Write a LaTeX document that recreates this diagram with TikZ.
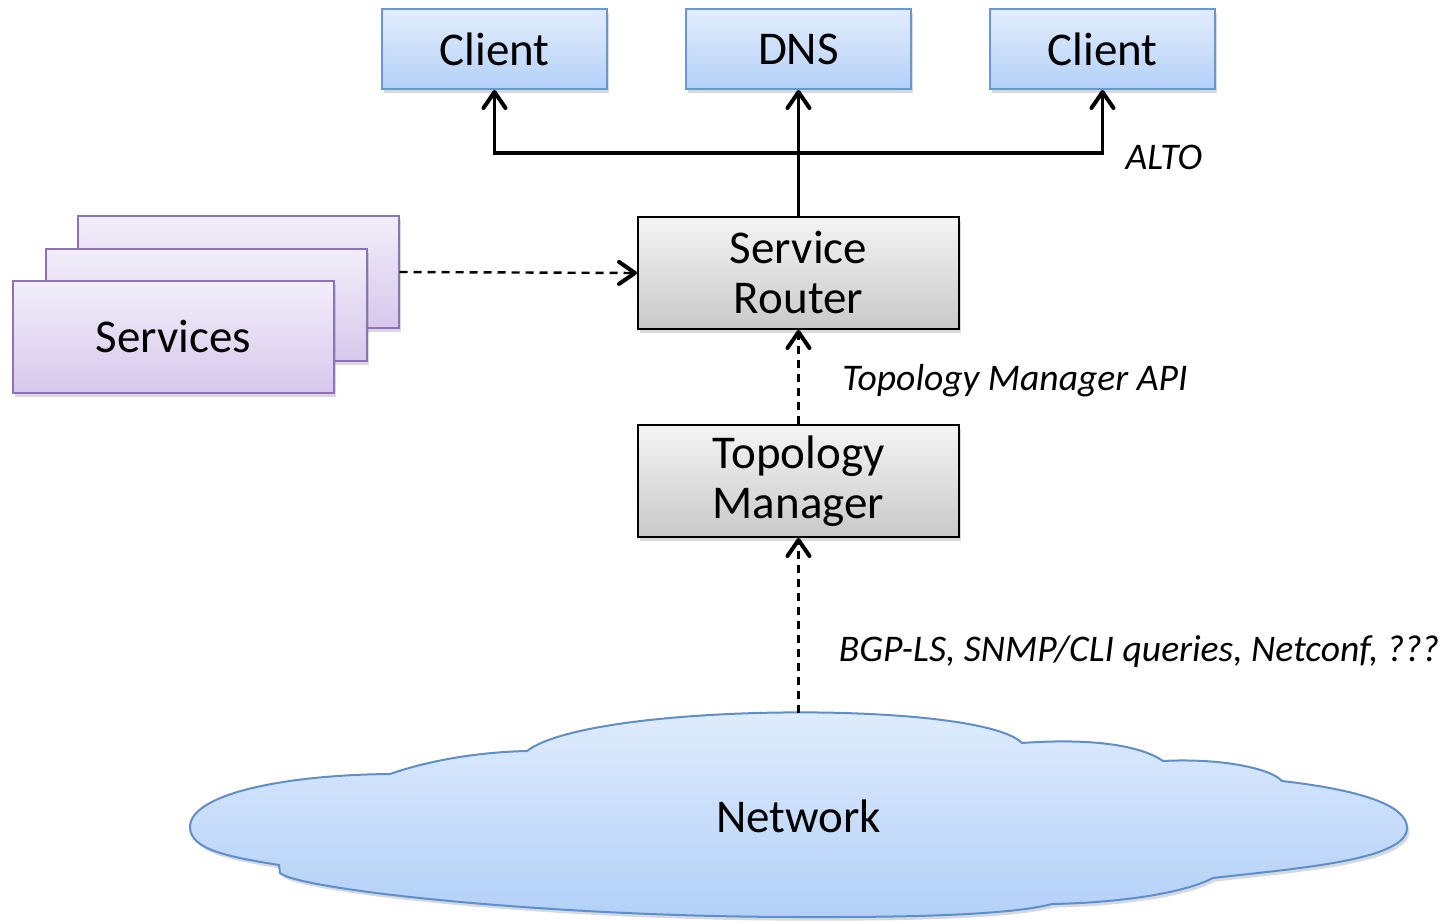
\documentclass[tikz,border=0pt]{standalone}
\usepackage{fontspec}
\setmainfont{Carlito}
\usetikzlibrary{arrows.meta,shadows,shadings}
\definecolor{bordblue}{HTML}{6A97CF}
\definecolor{blueTop}{HTML}{E3EEFD}
\definecolor{blueBot}{HTML}{B3D0F7}
\definecolor{grayTop}{HTML}{F4F4F4}
\definecolor{grayBot}{HTML}{C9C9C9}
\definecolor{bordpurple}{HTML}{8E72B4}
\definecolor{purTop}{HTML}{F2EEF9}
\definecolor{purBot}{HTML}{D6C8EC}
\definecolor{cloudBord}{HTML}{5F8FC8}
\definecolor{cloudTop}{HTML}{E2EDFD}
\definecolor{cloudBot}{HTML}{B2D0F8}
\tikzset{
  shadowed/.style={drop shadow={opacity=0.3, shadow xshift=1.2pt, shadow yshift=-1.8pt}},
  base/.style={draw, line width=1pt, inner sep=0pt, align=center,
    font=\fontsize{23.5}{25}\selectfont, shadowed},
  bluebox/.style={base, draw=bordblue, top color=blueTop, bottom color=blueBot,
    minimum width=112.5pt, minimum height=40pt},
  graybox/.style={base, draw=black, top color=grayTop, bottom color=grayBot,
    minimum width=160.5pt, minimum height=56pt},
  purplebox/.style={base, draw=bordpurple, top color=purTop, bottom color=purBot,
    minimum width=160.5pt, minimum height=56pt},
  tipA/.style={-{Straight Barb[length=8pt,width=11pt,line cap=round,round,line width=2pt]}},
  solidarrow/.style={line width=1.7pt, tipA},
  dasharrow/.style={line width=1.2pt, dash pattern=on 4pt off 3pt, tipA},
  lbl/.style={font=\fontsize{18.8}{20}\selectfont\itshape, inner sep=0pt}
}
\begin{document}
\begin{tikzpicture}[x=0.5pt,y=-0.5pt]
\useasboundingbox (0,0) rectangle (1447,921);
% top boxes
\node[bluebox] (c1) at (494.5,49) {Client};
\node[bluebox] (dns) at (798.5,49) {DNS};
\node[bluebox] (c2) at (1102.5,49) {Client};
% router, manager
\node[graybox] (sr) at (798.5,273) {Service\\Router};
\node[graybox] (tm) at (798.5,481) {Topology\\Manager};
% services stack
\node[purplebox] (s3) at (238,272) {};
\node[purplebox] (s2) at (206,305) {};
\node[purplebox] (s1) at (173.5,337) {Services};
% cloud
\draw[line width=1pt, draw=cloudBord, top color=cloudTop, bottom color=cloudBot, shadowed]
  (527,751)
  .. controls (590,702) and (980,700) .. (1022,743)
  .. controls (1090,738) and (1140,745) .. (1163,761)
  .. controls (1220,758) and (1270,768) .. (1282,781)
  .. controls (1360,790) and (1407,805) .. (1407,828)
  .. controls (1407,860) and (1300,868) .. (1213,878)
  .. controls (1180,895) and (1110,903) .. (1052,904)
  .. controls (1000,918) and (850,917) .. (800,917)
  .. controls (550,917) and (300,890) .. (280,873)
  -- (279,865)
  .. controls (230,857) and (190,850) .. (190,827)
  .. controls (190,795) and (280,775) .. (390,774)
  .. controls (430,760) and (480,752) .. (527,751)
  -- cycle;
\node[font=\fontsize{23.5}{25}\selectfont] (net) at (798.5,816) {Network};
\coordinate (ctop) at (798.5,713);
% ALTO tree
\coordinate (j) at (798.5,153);
\draw[solidarrow] (sr.north) -- (dns.south);
\draw[solidarrow] (j) -| (c1.south);
\draw[solidarrow] (j) -| (c2.south);
\node[lbl] (alto) at (1164,157) {ALTO};
% dashed
\draw[dasharrow] (s3.east) -- (sr.west);
\draw[dasharrow] (tm.north) -- (sr.south);
\node[lbl] (api) at (1015,381) {Topology Manager API};
\draw[dasharrow] (ctop) -- (tm.south);
\node[lbl] (bgp) at (1139,652) {BGP-LS, SNMP/CLI queries, Netconf, ???};
\end{tikzpicture}
\end{document}
